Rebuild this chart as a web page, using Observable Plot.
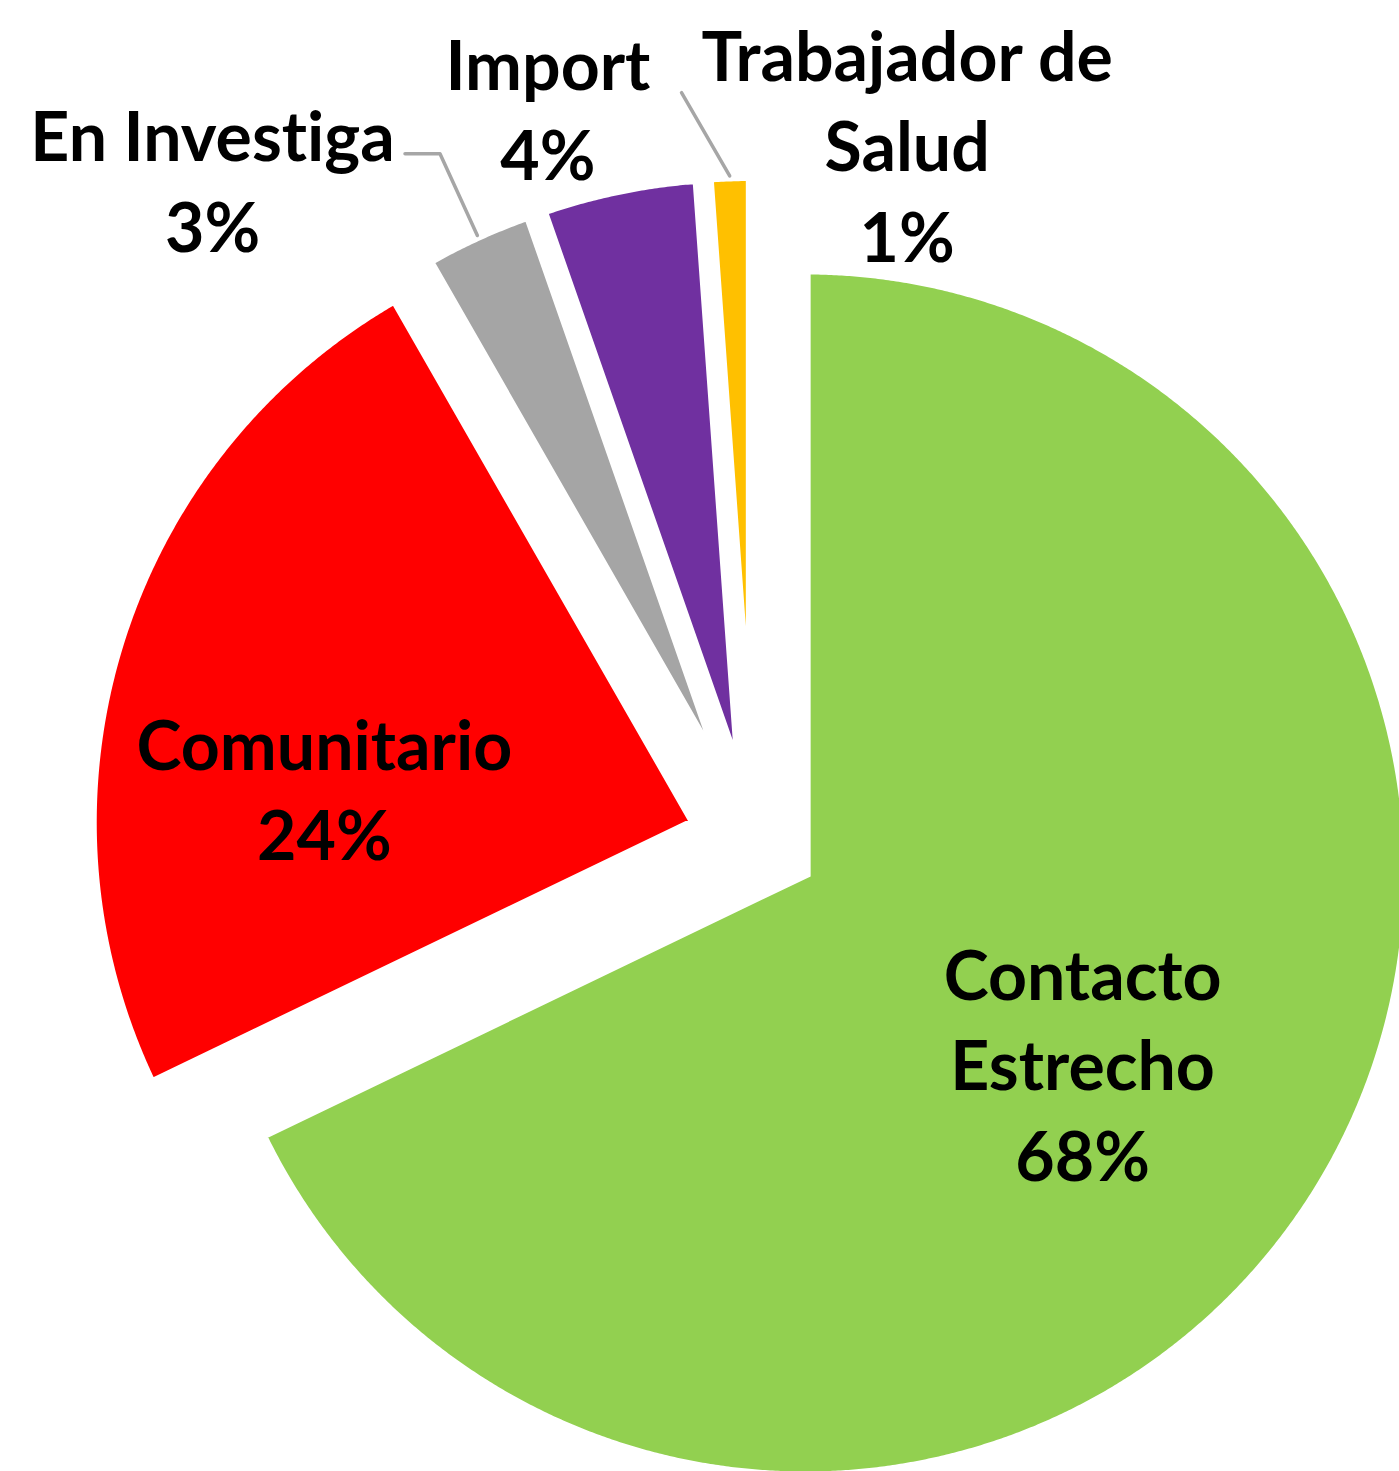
<!DOCTYPE html>
<html>
<head>
<meta charset="utf-8">
<script src="https://cdn.jsdelivr.net/npm/d3@7"></script>
<script src="https://cdn.jsdelivr.net/npm/@observablehq/plot@0.6"></script>
<style>
  html, body { margin: 0; padding: 0; background: #ffffff; }
  #chart svg { display: block; }
  #chart text { font-variant-ligatures: none; font-feature-settings: "liga" 0, "clig" 0; }
</style>
</head>
<body>
<div id="chart"></div>
<script>
// ---- data ----
const categories = ["Contacto Estrecho", "Comunitario", "En Investiga", "Import", "Trabajador de Salud"];
const labelNames = ["Contacto\nEstrecho", "Comunitario", "En Investiga", "Import", "Trabajador de\nSalud"];
const values = [67.86, 23.86, 2.93, 4.21, 1.14];
const colors = ["#92d050", "#ff0000", "#a5a5a5", "#7030a0", "#ffc000"];

// ---- layout (pixels / polar offsets) ----
const W = 1399, H = 1471;
const CX = 753, CY = 840, R = 604, EXPLODE = 61, BORDER = 11;
const labelRadius = [0.555, 0.617, 1.319, 1.162, 1.086];
const labelShiftDeg = [2, -11.6, -15.8, -4.3, 15.8];
const leaders = [
  { index: 2, outer: 1.149, outerShiftDeg: 0, tailPx: -35 },
  { index: 4, outer: 1.143, outerShiftDeg: -3.75, tailPx: 0 }
];

const total = d3.sum(values);
const pie = d3.pie().sort(null)(values);
const ex = EXPLODE / R;
const slices = pie.map((p, i) => {
  const mid = (p.startAngle + p.endAngle) / 2;
  return { name: categories[i], a0: p.startAngle, a1: p.endAngle, mid,
           ax: ex * Math.sin(mid), ay: ex * Math.cos(mid), value: values[i] };
});

// slice polygons (apex + arc) in units of the radius
const slicePts = [];
slices.forEach(s => {
  slicePts.push({ name: s.name, x: s.ax, y: s.ay });
  const n = Math.max(4, Math.ceil((s.a1 - s.a0) / (Math.PI / 720)));
  for (let k = 0; k <= n; k++) {
    const a = s.a0 + (s.a1 - s.a0) * k / n;
    slicePts.push({ name: s.name, x: s.ax + Math.sin(a), y: s.ay + Math.cos(a) });
  }
});

// labels
const deg = Math.PI / 180;
const labels = slices.map((s, i) => {
  const a = s.mid + labelShiftDeg[i] * deg;
  return {
    x: s.ax + labelRadius[i] * Math.sin(a),
    y: s.ay + labelRadius[i] * Math.cos(a),
    text: labelNames[i] + "\n" + Math.round(s.value / total * 100) + "%"
  };
});

// leader lines
const leaderPts = [];
leaders.forEach(l => {
  const s = slices[l.index];
  leaderPts.push({ id: l.index, x: s.ax + Math.sin(s.mid), y: s.ay + Math.cos(s.mid) });
  const a = s.mid + l.outerShiftDeg * deg;
  const px = s.ax + l.outer * Math.sin(a), py = s.ay + l.outer * Math.cos(a);
  leaderPts.push({ id: l.index, x: px, y: py });
  if (l.tailPx) leaderPts.push({ id: l.index, x: px + l.tailPx / R, y: py });
});

const chart = Plot.plot({
  width: W,
  height: H,
  margin: 0,
  x: { domain: [-CX / R, (W - CX) / R], axis: null },
  y: { domain: [(CY - H) / R, CY / R], axis: null },
  color: { domain: categories, range: colors },
  style: { background: "#ffffff" },
  marks: [
    Plot.line(slicePts, {
      x: "x", y: "y", z: "name", fill: "name",
      stroke: "#ffffff", strokeWidth: BORDER, strokeLinejoin: "miter", strokeMiterlimit: 4,
      curve: "linear-closed"
    }),
    Plot.line(leaderPts, {
      x: "x", y: "y", z: "id", stroke: "#a6a6a6", strokeWidth: 3.5
    }),
    Plot.text(labels, {
      x: "x", y: "y", text: "text",
      fontSize: 68, fontWeight: "bold", fontFamily: "Lato",
      lineHeight: 1.33, fill: "#000000", textAnchor: "middle", lineAnchor: "middle"
    })
  ]
});
document.getElementById("chart").appendChild(chart);
</script>
</body>
</html>
